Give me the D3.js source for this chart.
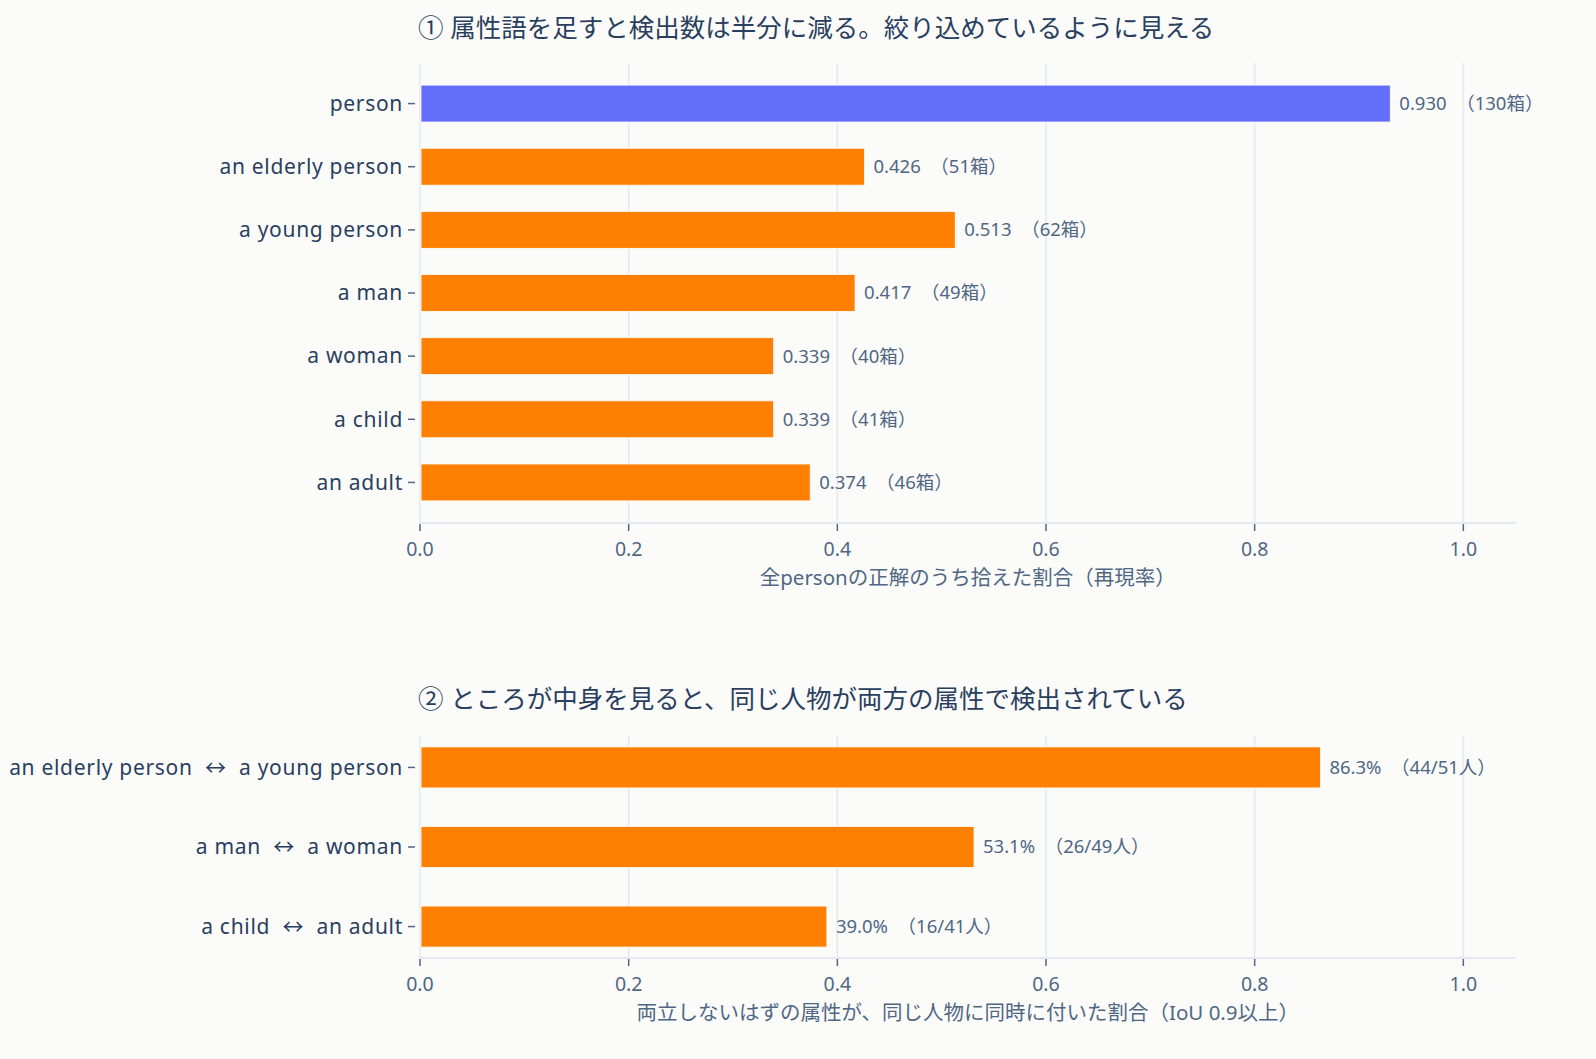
<!DOCTYPE html>
<html>
<head>
<meta charset="utf-8">
<script src="https://cdn.jsdelivr.net/npm/d3@7"></script>
<style>
  body { margin: 0; background: #fbfbf9; }
  svg { display: block; }
  text { font-family: "Noto Sans", "Noto Sans CJK JP", sans-serif; }
</style>
</head>
<body>
<div id="main"></div>
<script>
// top chart
var recallLabels = ['person', 'an elderly person', 'a young person', 'a man', 'a woman', 'a child', 'an adult'];
var recallValues = [0.930, 0.426, 0.513, 0.417, 0.339, 0.339, 0.374];
var recallBoxes = [130, 51, 62, 49, 40, 41, 46];

// bottom chart
var pairLabels = ['an elderly person  \u2194  a young person', 'a man  \u2194  a woman', 'a child  \u2194  an adult'];
var pairValues = [0.863, 0.531, 0.390];
var pairHits = ['44/51', '26/49', '16/41'];

var xTicks = [0, 0.2, 0.4, 0.6, 0.8, 1.0];

var W = 1596, H = 1059;
var svg = d3.select('#main').append('svg')
            .attr('width', W)
            .attr('height', H);
svg.append('rect').attr('width', W).attr('height', H).attr('fill', '#fbfbf9');

var x = d3.scaleLinear().domain([0, 1.05]).range([420, 1515.5]);

var gridColor = '#e3e8f2';
var tickColor = '#506784';
var labelColor = '#2a3f5f';

function drawPanel(opts) {
  var g = svg.append('g');
  var y = d3.scaleBand()
            .domain(opts.labels)
            .range([opts.top, opts.bottom])
            .paddingInner(opts.pi)
            .paddingOuter(opts.po);

  // title
  g.append('text')
   .attr('x', 418)
   .attr('y', opts.titleY)
   .attr('font-size', 25.5)
   .attr('fill', labelColor)
   .text(opts.title);

  // vertical grid
  g.selectAll('.grid')
   .data(xTicks)
   .enter().append('line')
   .attr('x1', function(d){ return x(d); })
   .attr('x2', function(d){ return x(d); })
   .attr('y1', opts.top)
   .attr('y2', opts.bottom)
   .attr('stroke', gridColor)
   .attr('stroke-width', 1.5);

  // bottom axis line
  g.append('line')
   .attr('x1', 420).attr('x2', 1515.5)
   .attr('y1', opts.bottom).attr('y2', opts.bottom)
   .attr('stroke', gridColor)
   .attr('stroke-width', 2);

  // bars
  g.selectAll('.bar')
   .data(opts.values)
   .enter().append('rect')
   .attr('x', x(0) + 1)
   .attr('y', function(d, i){ return y(opts.labels[i]); })
   .attr('width', function(d){ return x(d) - x(0) - 1; })
   .attr('height', y.bandwidth())
   .attr('fill', function(d, i){ return opts.colors(i); })
   .attr('stroke', '#ffffff')
   .attr('stroke-width', 0.8);

  // value labels
  g.selectAll('.val')
   .data(opts.values)
   .enter().append('text')
   .attr('x', function(d){ return x(d) + 9; })
   .attr('y', function(d, i){ return y(opts.labels[i]) + y.bandwidth() / 2; })
   .attr('dy', '0.35em')
   .attr('font-size', 18.5)
   .attr('fill', tickColor)
   .style('white-space', 'pre')
   .text(function(d, i){ return opts.valueText(d, i); });

  // y axis labels + ticks
  g.selectAll('.ylab')
   .data(opts.labels)
   .enter().append('text')
   .attr('x', 403)
   .attr('y', function(d){ return y(d) + y.bandwidth() / 2; })
   .attr('dy', '0.35em')
   .attr('text-anchor', 'end')
   .attr('font-size', 21)
   .attr('letter-spacing', 0.7)
   .attr('fill', labelColor)
   .style('white-space', 'pre')
   .text(function(d){ return d; });

  g.selectAll('.ytick')
   .data(opts.labels)
   .enter().append('line')
   .attr('x1', 408).attr('x2', 415)
   .attr('y1', function(d){ return y(d) + y.bandwidth() / 2; })
   .attr('y2', function(d){ return y(d) + y.bandwidth() / 2; })
   .attr('stroke', tickColor)
   .attr('stroke-width', 1.5);

  // x ticks
  g.selectAll('.xtick')
   .data(xTicks)
   .enter().append('line')
   .attr('x1', function(d){ return x(d); })
   .attr('x2', function(d){ return x(d); })
   .attr('y1', opts.bottom + 1)
   .attr('y2', opts.bottom + 8)
   .attr('stroke', tickColor)
   .attr('stroke-width', 1.5);

  g.selectAll('.xlab')
   .data(xTicks)
   .enter().append('text')
   .attr('x', function(d){ return x(d); })
   .attr('y', opts.bottom + 33)
   .attr('text-anchor', 'middle')
   .attr('font-size', 19.5)
   .attr('fill', tickColor)
   .text(function(d){ return d3.format('.1f')(d); });

  // axis title
  g.append('text')
   .attr('x', (x(0) + 1515.5) / 2)
   .attr('y', opts.bottom + 62)
   .attr('text-anchor', 'middle')
   .attr('font-size', 20.5)
   .attr('fill', tickColor)
   .text(opts.axisTitle);
}

drawPanel({
  labels: recallLabels,
  values: recallValues,
  top: 63, bottom: 523,
  pi: 0.415, po: 0.35,
  titleY: 37,
  title: '\u2460 属性語を足すと検出数は半分に減る。絞り込めているように見える',
  colors: function(i){ return i === 0 ? '#636efa' : '#ff7f00'; },
  valueText: function(d, i){ return d3.format('.3f')(d) + '  （' + recallBoxes[i] + '箱）'; },
  axisTitle: '全personの正解のうち拾えた割合（再現率）'
});

drawPanel({
  labels: pairLabels,
  values: pairValues,
  top: 736, bottom: 958,
  pi: 0.484, po: 0.137,
  titleY: 708,
  title: '\u2461 ところが中身を見ると、同じ人物が両方の属性で検出されている',
  colors: function(){ return '#ff7f00'; },
  valueText: function(d, i){ return d3.format('.1%')(d) + '  （' + pairHits[i] + '人）'; },
  axisTitle: '両立しないはずの属性が、同じ人物に同時に付いた割合（IoU 0.9以上）'
});
</script>
</body>
</html>
